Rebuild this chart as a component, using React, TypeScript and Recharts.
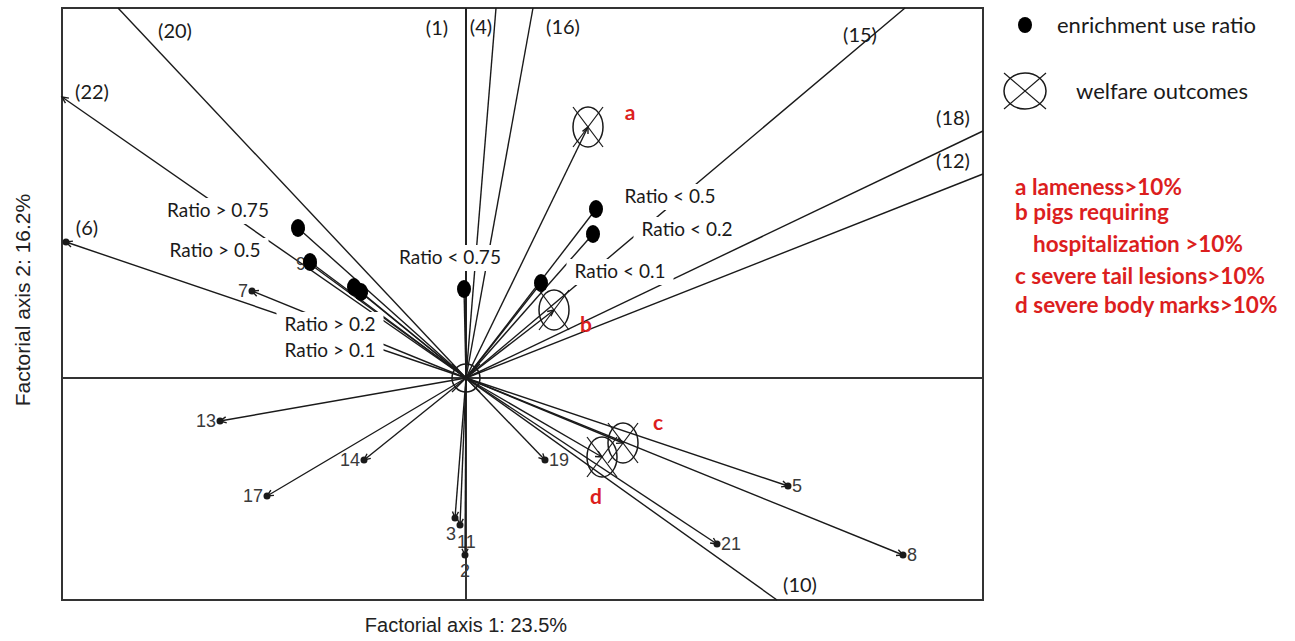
import React from "react";
import { ScatterChart, Scatter, XAxis, YAxis, ReferenceLine, ReferenceArea } from "recharts";

// supplementary variables, drawn as plain lines out to the plot frame
const suppNames = ["(20)", "(22)", "(6)", "(1)", "(4)", "(16)", "(15)", "(18)", "(12)", "(10)"];
const suppX = [-0.87, -1.01, -1.0, 0, 0.075, 0.1675, 1.0975, 1.2925, 1.2925, 0.7775];
const suppY = [0.925, 0.7025, 0.34, 0.925, 0.925, 0.925, 0.925, 0.6175, 0.51, -0.555];

// active variables (numbered arrows)
const varNames = ["13", "14", "17", "3", "11", "2", "19", "5", "8", "21", "7", "9"];
const varX = [-0.615, -0.255, -0.4975, -0.0275, -0.015, -0.0025, 0.1975, 0.805, 1.0925, 0.6275, -0.535, -0.39];
const varY = [-0.1075, -0.205, -0.295, -0.35, -0.3675, -0.4425, -0.205, -0.27, -0.4425, -0.415, 0.2175, 0.285];

// enrichment use ratio categories
const ratioNames = ["Ratio > 0.75", "Ratio > 0.5", "Ratio > 0.2", "Ratio > 0.1", "Ratio < 0.75", "Ratio < 0.5", "Ratio < 0.2", "Ratio < 0.1"];
const ratioX = [-0.42, -0.39, -0.28, -0.2625, -0.005, 0.325, 0.3175, 0.1875];
const ratioY = [0.375, 0.29, 0.2275, 0.215, 0.2225, 0.4225, 0.36, 0.2375];

// welfare outcomes
const outcomeNames = ["a", "b", "c", "d"];
const outcomeX = [0.305, 0.22, 0.3925, 0.34];
const outcomeY = [0.6275, 0.17, -0.1625, -0.1975];

const legendNotes = [
  "a lameness>10%",
  "b pigs requiring",
  "hospitalization >10%",
  "c severe tail lesions>10%",
  "d severe body marks>10%",
];

// label placement (pixels, relative to the end point)
const suppLabelOffset: Record<string, [number, number]> = {
  "(20)": [57, 23], "(22)": [30, -5], "(6)": [21, -14], "(1)": [-29, 20], "(4)": [-15, 19],
  "(16)": [30, 19], "(15)": [-45, 27], "(18)": [-30, -13], "(12)": [-30, -13], "(10)": [23, -15],
};
const varLabelSide: Record<string, string> = {
  "13": "left", "14": "left", "17": "left", "3": "belowLeft", "11": "belowRight", "2": "below",
  "19": "right", "5": "right", "8": "right", "21": "right", "7": "left", "9": "left",
};
const ratioLabelOffset: Record<string, [number, number]> = {
  "Ratio > 0.75": [-80, -17], "Ratio > 0.5": [-95, -11], "Ratio > 0.2": [-24, 38], "Ratio > 0.1": [-31, 59],
  "Ratio < 0.75": [-14, -31], "Ratio < 0.5": [74, -12], "Ratio < 0.2": [94, -4], "Ratio < 0.1": [79, -11],
};
const outcomeLabelOffset: Record<string, [number, number]> = {
  a: [42, -14], b: [32, 15], c: [35, -20], d: [-6, 40],
};

const INK = "#1a1a1a";
const RED = "#dc1e1e";
const LATO = "Lato, 'Open Sans', sans-serif";
const ARIAL = "'Liberation Sans', Arial, sans-serif";
const NARROW = "'Liberation Sans Narrow', 'Liberation Sans', Arial, sans-serif";

const suppData = suppNames.map((name, i) => ({ name, x: suppX[i], y: suppY[i] }));
const varData = varNames.map((name, i) => ({ name, x: varX[i], y: varY[i] }));
const ratioData = ratioNames.map((name, i) => ({ name, x: ratioX[i], y: ratioY[i] }));
const outcomeData = outcomeNames.map((name, i) => ({ name, x: outcomeX[i], y: outcomeY[i] }));

const arrowHead = (x1: number, y1: number, x2: number, y2: number) => {
  const ang = Math.atan2(y2 - y1, x2 - x1);
  const L = 7;
  const a = 0.45;
  const p1 = [x2 - L * Math.cos(ang - a), y2 - L * Math.sin(ang - a)];
  const p2 = [x2 - L * Math.cos(ang + a), y2 - L * Math.sin(ang + a)];
  return `M${p1[0]},${p1[1]} L${x2},${y2} L${p2[0]},${p2[1]}`;
};

const suppShape = (name: string) => (p: any) => {
  const { x1, y1, x2, y2 } = p;
  const [dx, dy] = suppLabelOffset[name] || [0, 0];
  const inside = name === "(22)" || name === "(6)";
  return (
    <g>
      <line x1={x1} y1={y1} x2={x2} y2={y2} stroke={INK} strokeWidth={1.4} />
      {inside && <path d={arrowHead(x1, y1, x2, y2)} fill="none" stroke={INK} strokeWidth={1.4} />}
      {name === "(6)" && <circle cx={x2} cy={y2} r={3.5} fill={INK} />}
      <text x={x2 + dx} y={y2 + dy + 7} textAnchor="middle" fontFamily={LATO} fontSize={20} fill={INK}>
        {name}
      </text>
    </g>
  );
};

const varShape = (name: string) => (p: any) => {
  const { x1, y1, x2, y2 } = p;
  const side = varLabelSide[name];
  let tx = x2;
  let ty = y2 + 6;
  let anchor = "middle";
  if (side === "left") { tx = x2 - 4; anchor = "end"; }
  if (side === "right") { tx = x2 + 4; anchor = "start"; }
  if (side === "below") { ty = y2 + 22; }
  if (side === "belowLeft") { tx = x2 + 1; ty = y2 + 22; anchor = "end"; }
  if (side === "belowRight") { tx = x2 - 3; ty = y2 + 23; anchor = "start"; }
  return (
    <g>
      <line x1={x1} y1={y1} x2={x2} y2={y2} stroke={INK} strokeWidth={1.4} />
      <path d={arrowHead(x1, y1, x2, y2)} fill="none" stroke={INK} strokeWidth={1.4} />
      <circle cx={x2} cy={y2} r={3.5} fill={INK} />
      <text x={tx} y={ty} textAnchor={anchor} fontFamily={NARROW} fontSize={18} fill="#3a3a3a">
        {name}
      </text>
    </g>
  );
};

const plainArrow = (p: any) => {
  const { x1, y1, x2, y2 } = p;
  return (
    <g>
      <line x1={x1} y1={y1} x2={x2} y2={y2} stroke={INK} strokeWidth={1.4} />
      <path d={arrowHead(x1, y1, x2, y2)} fill="none" stroke={INK} strokeWidth={1.4} />
    </g>
  );
};

const CrossCircle = ({ cx, cy, rx, ry }: { cx: number; cy: number; rx: number; ry: number }) => (
  <g>
    <ellipse cx={cx} cy={cy} rx={rx} ry={ry} fill="none" stroke={INK} strokeWidth={1.5} />
    <line x1={cx - rx} y1={cy - ry} x2={cx + rx} y2={cy + ry} stroke={INK} strokeWidth={1.2} />
    <line x1={cx + rx} y1={cy - ry} x2={cx - rx} y2={cy + ry} stroke={INK} strokeWidth={1.2} />
  </g>
);

const ratioDot = (p: any) => <ellipse cx={p.cx} cy={p.cy} rx={7} ry={9} fill="#000" />;

const ratioLabel = (p: any) => {
  const name = p.payload.name;
  const [dx, dy] = ratioLabelOffset[name] || [0, 0];
  const x = p.cx + dx;
  const y = p.cy + dy;
  const w = name.length * 9 + 8;
  return (
    <g>
      <rect x={x - w / 2} y={y - 13} width={w} height={26} fill="#fff" />
      <text x={x} y={y + 6} textAnchor="middle" fontFamily={LATO} fontSize={19} fill={INK}>
        {name}
      </text>
    </g>
  );
};

const outcomeShape = (p: any) => {
  const name = p.payload.name;
  const [dx, dy] = outcomeLabelOffset[name] || [0, 0];
  return (
    <g>
      <CrossCircle cx={p.cx} cy={p.cy} rx={15} ry={20} />
      <text x={p.cx + dx} y={p.cy + dy + 7} textAnchor="middle" fontFamily={LATO} fontWeight={700} fontSize={21} fill={RED}>
        {name}
      </text>
    </g>
  );
};

const originShape = (p: any) => <CrossCircle cx={p.cx} cy={p.cy} rx={14} ry={14} />;

export default function App() {
  return (
    <div style={{ position: "absolute", left: 0, top: 0, width: 1295, height: 641, background: "#fff" }}>
      <ScatterChart width={1295} height={641} margin={{ top: 8, left: 62, right: 312, bottom: 41 }}>
        <XAxis type="number" dataKey="x" domain={[-1.01, 1.2925]} allowDataOverflow hide />
        <YAxis type="number" dataKey="y" domain={[-0.555, 0.925]} allowDataOverflow hide />
        <ReferenceLine x={0} stroke="#333" strokeWidth={2} />
        <ReferenceLine y={0} stroke="#333" strokeWidth={2} />
        {suppData.map((d) => (
          <ReferenceLine key={d.name} segment={[{ x: 0, y: 0 }, { x: d.x, y: d.y }]} ifOverflow="visible" shape={suppShape(d.name)} />
        ))}
        {varData.map((d) => (
          <ReferenceLine key={"v" + d.name} segment={[{ x: 0, y: 0 }, { x: d.x, y: d.y }]} ifOverflow="visible" shape={varShape(d.name)} />
        ))}
        {ratioData.map((d) => (
          <ReferenceLine key={"r" + d.name} segment={[{ x: 0, y: 0 }, { x: d.x, y: d.y }]} ifOverflow="visible" shape={plainArrow} />
        ))}
        {outcomeData.map((d) => (
          <ReferenceLine key={"o" + d.name} segment={[{ x: 0, y: 0 }, { x: d.x, y: d.y }]} ifOverflow="visible" shape={plainArrow} />
        ))}
        <ReferenceArea x1={-1.01} x2={1.2925} y1={-0.555} y2={0.925} fill="none" stroke="#333" strokeWidth={2} ifOverflow="visible" />
        <Scatter data={[{ name: "origin", x: 0, y: 0 }]} shape={originShape} isAnimationActive={false} />
        <Scatter data={ratioData} shape={ratioDot} isAnimationActive={false} />
        <Scatter data={outcomeData} shape={outcomeShape} isAnimationActive={false} />
        <Scatter data={ratioData} shape={ratioLabel} isAnimationActive={false} />
      </ScatterChart>
      <svg width={1295} height={641} style={{ position: "absolute", left: 0, top: 0, pointerEvents: "none" }}>
        <text x={466} y={632} textAnchor="middle" fontFamily={ARIAL} fontSize={20} fill="#222">
          Factorial axis 1: 23.5%
        </text>
        <text x={0} y={0} transform="translate(30,300) rotate(-90)" textAnchor="middle" fontFamily={ARIAL} fontSize={21} fill="#222">
          Factorial axis 2: 16.2%
        </text>
        <ellipse cx={1025} cy={25} rx={7} ry={8} fill="#000" />
        <text x={1057} y={33} fontFamily={LATO} fontSize={22} fill={INK}>
          enrichment use ratio
        </text>
        <CrossCircle cx={1025} cy={91} rx={21} ry={18} />
        <text x={1076} y={99} fontFamily={LATO} fontSize={22} fill={INK}>
          welfare outcomes
        </text>
        {legendNotes.map((t, i) => (
          <text key={t} x={i === 2 ? 1033 : 1015} y={[195, 220, 252, 284, 313][i]} fontFamily={LATO} fontWeight={700} fontSize={22.5} fill={RED}>
            {t}
          </text>
        ))}
      </svg>
    </div>
  );
}
